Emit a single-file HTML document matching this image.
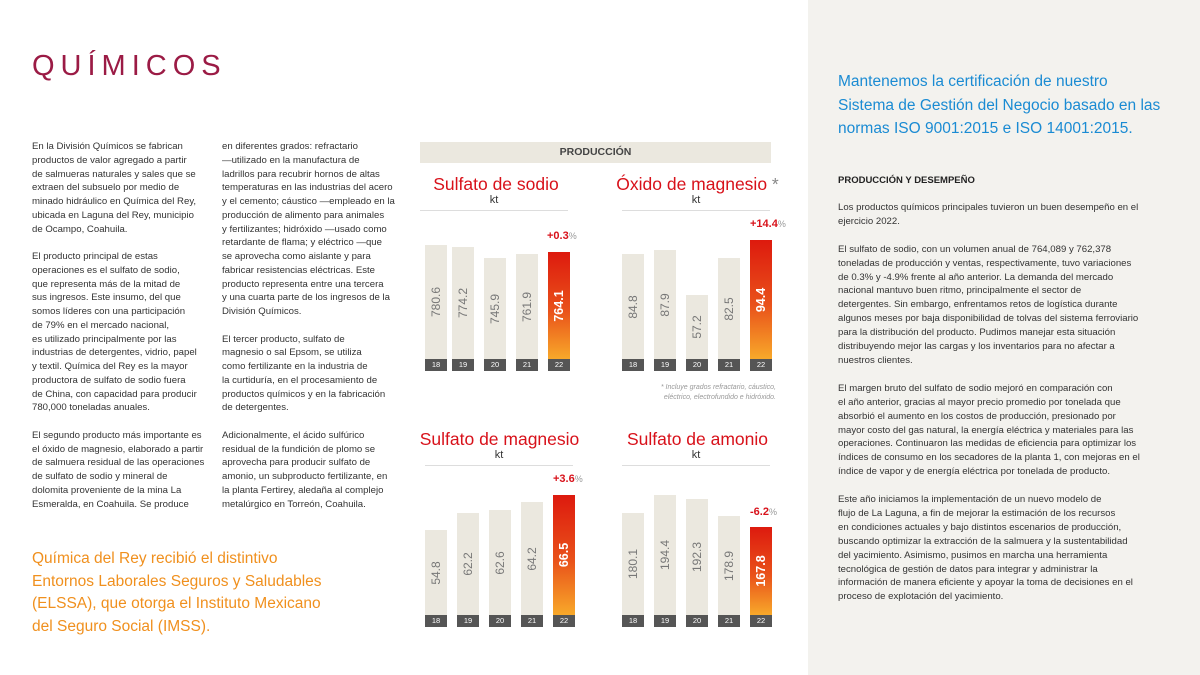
<!DOCTYPE html>
<html><head><meta charset="utf-8"><style>
*{margin:0;padding:0;box-sizing:border-box}
body{width:1200px;height:675px;position:relative;background:#fff;font-family:"Liberation Sans",sans-serif;overflow:hidden;color:#3a3a3a}
.a{position:absolute;white-space:nowrap}
.txt{font-size:9.6px;line-height:13.75px;color:#333}
.rt{font-size:9.6px;line-height:13.9px;color:#333}
.bar{position:absolute;width:22px;background:#ebe8df}
.bar span{position:absolute;left:50%;top:50%;transform:translate(-50%,-50%) rotate(-90deg);font-size:12px;color:#777;white-space:nowrap}
.hot{background:linear-gradient(#dd1a0e,#e9521a 55%,#f8a92a)}
.hot span{color:#fff;font-weight:bold;font-size:12.5px}
.yr{position:absolute;width:22px;height:12px;background:#555;color:#fff;font-size:7.5px;text-align:center;line-height:12px}
.ct{font-size:17.5px;color:#d8111a;text-align:center}
.kt{font-size:11px;color:#333;text-align:center}
.hr{position:absolute;height:1px;background:#ddd}
.pct{font-size:11px;color:#d8111a;font-weight:bold}
.pct i{font-style:normal;font-weight:normal;color:#999;font-size:9px}
</style></head><body>
<div class="a" style="left:808px;top:0;width:392px;height:675px;background:#f3f2ee"></div>
<div class="a" style="left:32px;top:50px;font-size:29px;letter-spacing:6px;color:#9b1b45">QUÍMICOS</div>

<div class="a txt" style="left:32px;top:140px">En la División Químicos se fabrican<br>productos de valor agregado a partir<br>de salmueras naturales y sales que se<br>extraen del subsuelo por medio de<br>minado hidráulico en Química del Rey,<br>ubicada en Laguna del Rey, municipio<br>de Ocampo, Coahuila.<br><br>El producto principal de estas<br>operaciones es el sulfato de sodio,<br>que representa más de la mitad de<br>sus ingresos. Este insumo, del que<br>somos líderes con una participación<br>de 79% en el mercado nacional,<br>es utilizado principalmente por las<br>industrias de detergentes, vidrio, papel<br>y textil. Química del Rey es la mayor<br>productora de sulfato de sodio fuera<br>de China, con capacidad para producir<br>780,000 toneladas anuales.<br><br>El segundo producto más importante es<br>el óxido de magnesio, elaborado a partir<br>de salmuera residual de las operaciones<br>de sulfato de sodio y mineral de<br>dolomita proveniente de la mina La<br>Esmeralda, en Coahuila. Se produce</div>

<div class="a txt" style="left:222px;top:140px">en diferentes grados: refractario<br>—utilizado en la manufactura de<br>ladrillos para recubrir hornos de altas<br>temperaturas en las industrias del acero<br>y el cemento; cáustico —empleado en la<br>producción de alimento para animales<br>y fertilizantes; hidróxido —usado como<br>retardante de flama; y eléctrico —que<br>se aprovecha como aislante y para<br>fabricar resistencias eléctricas. Este<br>producto representa entre una tercera<br>y una cuarta parte de los ingresos de la<br>División Químicos.<br><br>El tercer producto, sulfato de<br>magnesio o sal Epsom, se utiliza<br>como fertilizante en la industria de<br>la curtiduría, en el procesamiento de<br>productos químicos y en la fabricación<br>de detergentes.<br><br>Adicionalmente, el ácido sulfúrico<br>residual de la fundición de plomo se<br>aprovecha para producir sulfato de<br>amonio, un subproducto fertilizante, en<br>la planta Fertirey, aledaña al complejo<br>metalúrgico en Torreón, Coahuila.</div>

<div class="a" style="left:32px;top:548px;font-size:15.5px;line-height:22.5px;color:#f0901e">Química del Rey recibió el distintivo<br>Entornos Laborales Seguros y Saludables<br>(ELSSA), que otorga el Instituto Mexicano<br>del Seguro Social (IMSS).</div>

<div class="a" style="left:420px;top:142px;width:351px;height:21px;background:#ebe8df;font-size:10.5px;font-weight:bold;text-align:center;line-height:21px;color:#444">PRODUCCIÓN</div>

<!-- chart 1 -->
<div class="a ct" style="left:416px;top:174px;width:160px">Sulfato de sodio</div>
<div class="a kt" style="left:420px;top:194px;width:148px">kt</div>
<div class="hr" style="left:420px;top:210px;width:148px"></div>
<div class="a pct" style="left:547px;top:230px">+0.3<i>%</i></div>
<div class="bar" style="left:425px;top:245px;height:114px"><span>780.6</span></div>
<div class="bar" style="left:452px;top:247px;height:112px"><span>774.2</span></div>
<div class="bar" style="left:484px;top:258px;height:101px"><span>745.9</span></div>
<div class="bar" style="left:516px;top:254px;height:105px"><span>761.9</span></div>
<div class="bar hot" style="left:548px;top:252px;height:107px"><span>764.1</span></div>
<div class="yr" style="left:425px;top:359px">18</div><div class="yr" style="left:452px;top:359px">19</div><div class="yr" style="left:484px;top:359px">20</div><div class="yr" style="left:516px;top:359px">21</div><div class="yr" style="left:548px;top:359px">22</div>

<!-- chart 2 -->
<div class="a ct" style="left:615px;top:174px;width:165px">Óxido de magnesio <span style="color:#888">*</span></div>
<div class="a kt" style="left:622px;top:194px;width:148px">kt</div>
<div class="hr" style="left:622px;top:210px;width:148px"></div>
<div class="a pct" style="left:750px;top:218px">+14.4<i>%</i></div>
<div class="bar" style="left:622px;top:254px;height:105px"><span>84.8</span></div>
<div class="bar" style="left:654px;top:250px;height:109px"><span>87.9</span></div>
<div class="bar" style="left:686px;top:295px;height:64px"><span>57.2</span></div>
<div class="bar" style="left:718px;top:258px;height:101px"><span>82.5</span></div>
<div class="bar hot" style="left:750px;top:240px;height:119px"><span>94.4</span></div>
<div class="yr" style="left:622px;top:359px">18</div><div class="yr" style="left:654px;top:359px">19</div><div class="yr" style="left:686px;top:359px">20</div><div class="yr" style="left:718px;top:359px">21</div><div class="yr" style="left:750px;top:359px">22</div>
<div class="a" style="left:600px;top:383px;width:176px;text-align:right;font-size:7px;line-height:10px;color:#999;font-style:italic">* Incluye grados refractario, cáustico,<br>eléctrico, electrofundido e hidróxido.</div>

<!-- chart 3 -->
<div class="a ct" style="left:418px;top:429px;width:163px">Sulfato de magnesio</div>
<div class="a kt" style="left:425px;top:449px;width:148px">kt</div>
<div class="hr" style="left:425px;top:465px;width:148px"></div>
<div class="a pct" style="left:553px;top:473px">+3.6<i>%</i></div>
<div class="bar" style="left:425px;top:530px;height:85px"><span>54.8</span></div>
<div class="bar" style="left:457px;top:513px;height:102px"><span>62.2</span></div>
<div class="bar" style="left:489px;top:510px;height:105px"><span>62.6</span></div>
<div class="bar" style="left:521px;top:502px;height:113px"><span>64.2</span></div>
<div class="bar hot" style="left:553px;top:495px;height:120px"><span>66.5</span></div>
<div class="yr" style="left:425px;top:615px">18</div><div class="yr" style="left:457px;top:615px">19</div><div class="yr" style="left:489px;top:615px">20</div><div class="yr" style="left:521px;top:615px">21</div><div class="yr" style="left:553px;top:615px">22</div>

<!-- chart 4 -->
<div class="a ct" style="left:620px;top:429px;width:155px">Sulfato de amonio</div>
<div class="a kt" style="left:622px;top:449px;width:148px">kt</div>
<div class="hr" style="left:622px;top:465px;width:148px"></div>
<div class="a pct" style="left:750px;top:506px">-6.2<i>%</i></div>
<div class="bar" style="left:622px;top:513px;height:102px"><span>180.1</span></div>
<div class="bar" style="left:654px;top:495px;height:120px"><span>194.4</span></div>
<div class="bar" style="left:686px;top:499px;height:116px"><span>192.3</span></div>
<div class="bar" style="left:718px;top:516px;height:99px"><span>178.9</span></div>
<div class="bar hot" style="left:750px;top:527px;height:88px"><span>167.8</span></div>
<div class="yr" style="left:622px;top:615px">18</div><div class="yr" style="left:654px;top:615px">19</div><div class="yr" style="left:686px;top:615px">20</div><div class="yr" style="left:718px;top:615px">21</div><div class="yr" style="left:750px;top:615px">22</div>

<!-- right panel -->
<div class="a" style="left:838px;top:70px;font-size:15.5px;line-height:23.5px;color:#1a8bd3">Mantenemos la certificación de nuestro<br>Sistema de Gestión del Negocio basado en las<br>normas ISO 9001:2015 e ISO 14001:2015.</div>
<div class="a" style="left:838px;top:175px;font-size:9.5px;font-weight:bold;color:#222">PRODUCCIÓN Y DESEMPEÑO</div>
<div class="a rt" style="left:838px;top:201px">Los productos químicos principales tuvieron un buen desempeño en el<br>ejercicio 2022.<br><br>El sulfato de sodio, con un volumen anual de 764,089 y 762,378<br>toneladas de producción y ventas, respectivamente, tuvo variaciones<br>de 0.3% y -4.9% frente al año anterior. La demanda del mercado<br>nacional mantuvo buen ritmo, principalmente el sector de<br>detergentes. Sin embargo, enfrentamos retos de logística durante<br>algunos meses por baja disponibilidad de tolvas del sistema ferroviario<br>para la distribución del producto. Pudimos manejar esta situación<br>distribuyendo mejor las cargas y los inventarios para no afectar a<br>nuestros clientes.<br><br>El margen bruto del sulfato de sodio mejoró en comparación con<br>el año anterior, gracias al mayor precio promedio por tonelada que<br>absorbió el aumento en los costos de producción, presionado por<br>mayor costo del gas natural, la energía eléctrica y materiales para las<br>operaciones. Continuaron las medidas de eficiencia para optimizar los<br>índices de consumo en los secadores de la planta 1, con mejoras en el<br>índice de vapor y de energía eléctrica por tonelada de producto.<br><br>Este año iniciamos la implementación de un nuevo modelo de<br>flujo de La Laguna, a fin de mejorar la estimación de los recursos<br>en condiciones actuales y bajo distintos escenarios de producción,<br>buscando optimizar la extracción de la salmuera y la sustentabilidad<br>del yacimiento. Asimismo, pusimos en marcha una herramienta<br>tecnológica de gestión de datos para integrar y administrar la<br>información de manera eficiente y apoyar la toma de decisiones en el<br>proceso de explotación del yacimiento.</div>
</body></html>
